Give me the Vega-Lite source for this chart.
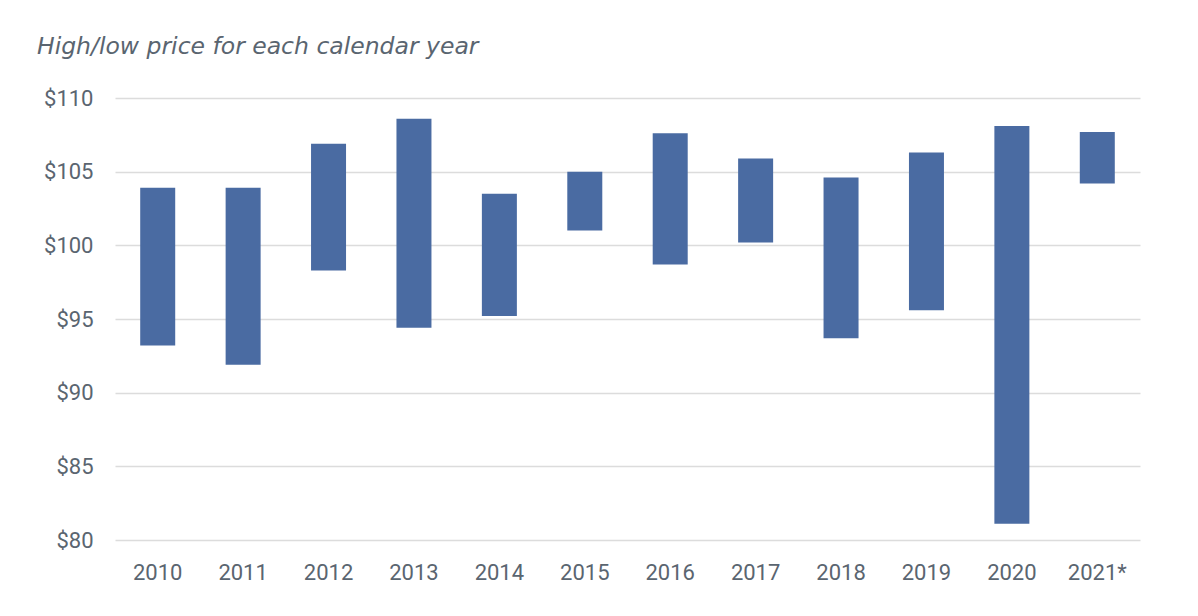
{
  "$schema": "https://vega.github.io/schema/vega-lite/v6.json",
  "autosize": "none",
  "width": 1025,
  "height": 442,
  "padding": {"left": 115, "top": 98, "right": 58, "bottom": 76},
  "background": "#FFFFFF",
  "title": {
    "text": "High/low price for each calendar year",
    "anchor": "start",
    "frame": "group",
    "dx": -78,
    "offset": 29,
    "font": "DejaVu Sans",
    "fontSize": 23.5,
    "fontStyle": "italic",
    "fontWeight": "normal",
    "color": "#5a6570"
  },
  "data": {
    "values": [
      {"year": "2010", "low": 93.2, "high": 103.9},
      {"year": "2011", "low": 91.9, "high": 103.9},
      {"year": "2012", "low": 98.3, "high": 106.9},
      {"year": "2013", "low": 94.4, "high": 108.6},
      {"year": "2014", "low": 95.2, "high": 103.5},
      {"year": "2015", "low": 101.0, "high": 105.0},
      {"year": "2016", "low": 98.7, "high": 107.6},
      {"year": "2017", "low": 100.2, "high": 105.9},
      {"year": "2018", "low": 93.7, "high": 104.6},
      {"year": "2019", "low": 95.6, "high": 106.3},
      {"year": "2020", "low": 81.1, "high": 108.1},
      {"year": "2021*", "low": 104.2, "high": 107.7}
    ]
  },
  "mark": {"type": "bar", "color": "#4a6ba2", "width": 35},
  "encoding": {
    "x": {
      "field": "year",
      "type": "nominal",
      "sort": null,
      "scale": {"paddingInner": 0.58, "paddingOuter": 0.29},
      "axis": {
        "title": null,
        "labelAngle": 0,
        "domain": false,
        "ticks": false,
        "grid": false,
        "labelPadding": 22,
        "labelFont": "Roboto",
        "labelFontSize": 22,
        "labelColor": "#5a6570"
      }
    },
    "y": {
      "field": "low",
      "type": "quantitative",
      "scale": {"domain": [80, 110], "nice": false, "zero": false},
      "axis": {
        "title": null,
        "values": [80, 85, 90, 95, 100, 105, 110],
        "format": "$d",
        "domain": false,
        "ticks": false,
        "grid": true,
        "gridColor": "#dcdcdc",
        "gridWidth": 1.5,
        "labelPadding": 22,
        "labelFont": "Roboto",
        "labelFontSize": 22,
        "labelColor": "#5a6570"
      }
    },
    "y2": {"field": "high"}
  },
  "config": {"view": {"stroke": null}}
}
